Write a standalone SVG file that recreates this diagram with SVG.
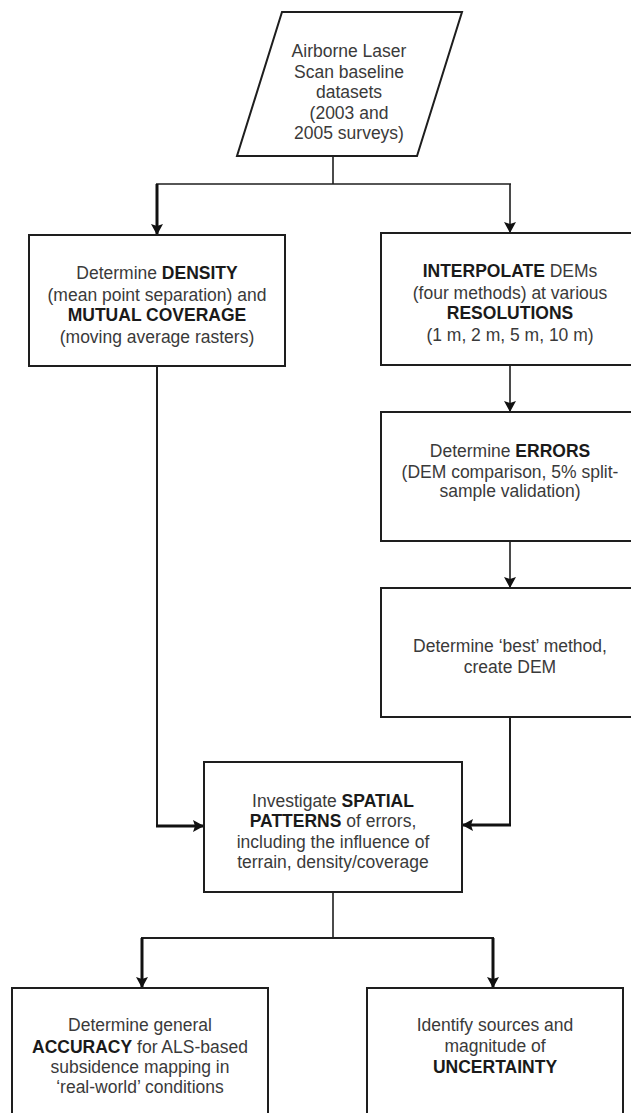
<svg xmlns="http://www.w3.org/2000/svg" width="631" height="1113" viewBox="0 0 631 1113">
<style>
.box{fill:#fff;stroke:#1e1e1e;stroke-width:2}
.t{font-family:"Liberation Sans",Arial,sans-serif;font-size:17.5px;fill:#3a3a3a;text-anchor:middle}
.b{font-weight:bold;fill:#1a1a1a}
.ln{fill:none;stroke:#1e1e1e;stroke-width:1.6}
.th{fill:none;stroke:#111;stroke-width:3}
.md{fill:none;stroke:#1e1e1e;stroke-width:2}
</style>
<defs>
<marker id="ah" markerUnits="userSpaceOnUse" markerWidth="12" markerHeight="12" refX="11" refY="6" orient="auto">
<path d="M0,0 L11,6 L0,12 L2,6 z" fill="#111"/>
</marker>
</defs>
<rect width="631" height="1113" fill="#fff"/>
<g id="connectors">
<path class="ln" d="M333,156 V184"/>
<path class="ln" d="M156,184 H511"/>
<path class="th" d="M157,184 V235" marker-end="url(#ah)"/>
<path class="ln" d="M510,184 V233" marker-end="url(#ah)"/>
<path class="ln" d="M510,366 V412" marker-end="url(#ah)"/>
<path class="ln" d="M510,542 V588" marker-end="url(#ah)"/>
<path class="md" d="M157,367 V826"/>
<path class="th" d="M156,826 H204" marker-end="url(#ah)"/>
<path class="md" d="M510,718 V825"/>
<path class="th" d="M511,825 H462" marker-end="url(#ah)"/>
<path class="ln" d="M333,893 V938"/>
<path class="md" d="M141,938 H494"/>
<path class="th" d="M142,938 V988" marker-end="url(#ah)"/>
<path class="th" d="M493,938 V988" marker-end="url(#ah)"/>
</g>
<g id="n_als">
<polygon class="box" points="282,12 462,12 417,156 237,156"/>
<text class="t" x="349" y="57">Airborne Laser</text>
<text class="t" x="349" y="78">Scan baseline</text>
<text class="t" x="349" y="98">datasets</text>
<text class="t" x="349" y="119">(2003 and</text>
<text class="t" x="349" y="139">2005 surveys)</text>
</g>
<g id="n_density">
<rect class="box" x="29" y="235" width="256" height="131"/>
<text class="t" x="157" y="279">Determine <tspan class="b">DENSITY</tspan></text>
<text class="t" x="157" y="301">(mean point separation) and</text>
<text class="t b" x="157" y="321">MUTUAL COVERAGE</text>
<text class="t" x="157" y="343">(moving average rasters)</text>
</g>
<g id="n_interp">
<rect class="box" x="381" y="233" width="256" height="132"/>
<text class="t" x="510" y="277"><tspan class="b">INTERPOLATE</tspan> DEMs</text>
<text class="t" x="510" y="299">(four methods) at various</text>
<text class="t b" x="510" y="319">RESOLUTIONS</text>
<text class="t" x="510" y="341">(1 m, 2 m, 5 m, 10 m)</text>
</g>
<g id="n_errors">
<rect class="box" x="381" y="412" width="256" height="129"/>
<text class="t" x="510" y="457">Determine <tspan class="b">ERRORS</tspan></text>
<text class="t" x="510" y="478">(DEM comparison, 5% split-</text>
<text class="t" x="510" y="497">sample validation)</text>
</g>
<g id="n_best">
<rect class="box" x="381" y="588" width="256" height="129"/>
<text class="t" x="510" y="652">Determine ‘best’ method,</text>
<text class="t" x="510" y="673">create DEM</text>
</g>
<g id="n_spatial">
<rect class="box" x="204" y="762" width="258" height="130"/>
<text class="t" x="333" y="807">Investigate <tspan class="b">SPATIAL</tspan></text>
<text class="t" x="333" y="827"><tspan class="b">PATTERNS</tspan> of errors,</text>
<text class="t" x="333" y="848">including the influence of</text>
<text class="t" x="333" y="868">terrain, density/coverage</text>
</g>
<g id="n_accuracy">
<rect class="box" x="12" y="988" width="256" height="140"/>
<text class="t" x="140" y="1031">Determine general</text>
<text class="t" x="140" y="1053"><tspan class="b">ACCURACY</tspan> for ALS-based</text>
<text class="t" x="140" y="1073">subsidence mapping in</text>
<text class="t" x="140" y="1093">‘real-world’ conditions</text>
</g>
<g id="n_uncert">
<rect class="box" x="367" y="988" width="256" height="140"/>
<text class="t" x="495" y="1031">Identify sources and</text>
<text class="t" x="495" y="1052">magnitude of</text>
<text class="t b" x="495" y="1073">UNCERTAINTY</text>
</g>
</svg>
